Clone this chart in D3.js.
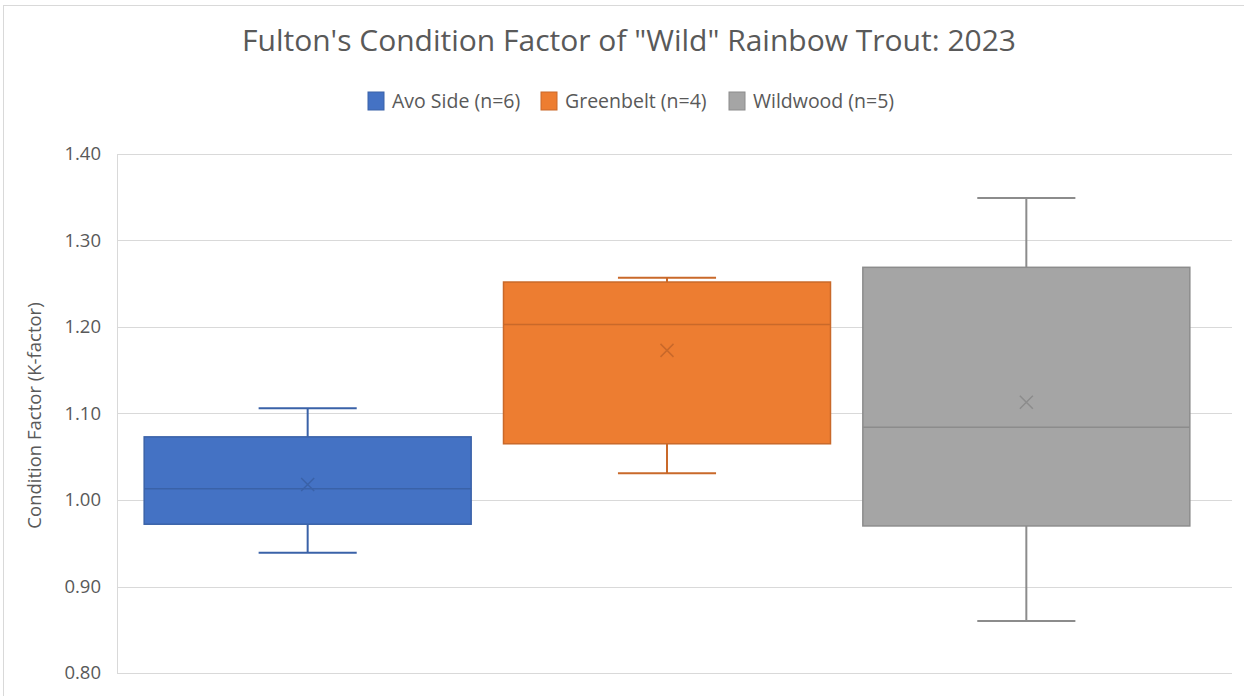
<!DOCTYPE html>
<html>
<head>
<meta charset="utf-8">
<script src="https://cdn.jsdelivr.net/npm/d3@7"></script>
<style>
  body { margin: 0; background: #fff; }
  svg { display: block; font-family: "Open Sans", "Noto Sans", sans-serif; }
</style>
</head>
<body>
<div id="chart"></div>
<script>
// data
const series = ["Avo Side (n=6)", "Greenbelt (n=4)", "Wildwood (n=5)"];
const colors = ["#4472C4", "#ED7D31", "#A5A5A5"];
const strokes = ["#3A62A8", "#C9692A", "#8C8C8C"];
const mins    = [0.939, 1.031, 0.860];
const q1s     = [0.972, 1.065, 0.970];
const medians = [1.013, 1.203, 1.084];
const q3s     = [1.073, 1.252, 1.269];
const maxs    = [1.106, 1.257, 1.349];
const means   = [1.018, 1.173, 1.113];
const yTicks  = [0.80, 0.90, 1.00, 1.10, 1.20, 1.30, 1.40];

const width = 1244, height = 696;
const plot = { left: 117, right: 1232, top: 154, bottom: 673 };

const svg = d3.select("#chart").append("svg")
  .attr("width", width)
  .attr("height", height);

// chart border
svg.append("rect")
  .attr("x", 3.5).attr("y", 5.5)
  .attr("width", width + 10).attr("height", height + 10)
  .attr("fill", "none")
  .attr("stroke", "#d9d9d9");

const y = d3.scaleLinear().domain([0.8, 1.4]).range([plot.bottom, plot.top]);

const x = d3.scaleBand()
  .domain(series)
  .range([128, 1206])
  .paddingInner(0.09)
  .paddingOuter(0.045);

// gridlines
svg.append("g")
  .selectAll("line")
  .data(yTicks)
  .join("line")
  .attr("x1", plot.left).attr("x2", plot.right)
  .attr("y1", d => Math.round(y(d)) + 0.5)
  .attr("y2", d => Math.round(y(d)) + 0.5)
  .attr("stroke", "#d9d9d9")
  .attr("stroke-width", 1);

// vertical axis line
svg.append("line")
  .attr("x1", plot.left + 0.5).attr("x2", plot.left + 0.5)
  .attr("y1", plot.top).attr("y2", plot.bottom)
  .attr("stroke", "#d9d9d9");

// y axis labels
const yAxis = svg.append("g")
  .attr("transform", `translate(${plot.left},0)`)
  .call(d3.axisLeft(y).tickValues(yTicks).tickFormat(d3.format(".2f")).tickSize(0).tickPadding(16));
yAxis.select(".domain").remove();
yAxis.selectAll(".tick text")
  .style("font-size", "18.5px")
  .style("font-family", "'Open Sans', sans-serif")
  .attr("fill", "#595959");

// y axis title
svg.append("text")
  .attr("transform", `translate(41,${(plot.top + plot.bottom) / 2 + 2}) rotate(-90)`)
  .attr("text-anchor", "middle")
  .style("font-size", "18.5px")
  .attr("fill", "#595959")
  .text("Condition Factor (K-factor)");

// title
svg.append("text")
  .attr("x", 629).attr("y", 51)
  .attr("text-anchor", "middle")
  .style("font-size", "30px")
  .attr("fill", "#595959")
  .text("Fulton's Condition Factor of \"Wild\" Rainbow Trout: 2023");

// boxes
const boxes = svg.append("g")
  .selectAll("g")
  .data(series)
  .join("g");

boxes.each(function(name, i) {
  const g = d3.select(this);
  const bx = x(name), bw = x.bandwidth(), cx = bx + bw / 2;
  const capW = bw * 0.3;
  // whiskers
  g.append("line")
    .attr("x1", cx).attr("x2", cx)
    .attr("y1", y(maxs[i])).attr("y2", y(q3s[i]))
    .attr("stroke", strokes[i]).attr("stroke-width", 2);
  g.append("line")
    .attr("x1", cx).attr("x2", cx)
    .attr("y1", y(q1s[i])).attr("y2", y(mins[i]))
    .attr("stroke", strokes[i]).attr("stroke-width", 2);
  g.append("line")
    .attr("x1", cx - capW / 2).attr("x2", cx + capW / 2)
    .attr("y1", y(maxs[i])).attr("y2", y(maxs[i]))
    .attr("stroke", strokes[i]).attr("stroke-width", 2);
  g.append("line")
    .attr("x1", cx - capW / 2).attr("x2", cx + capW / 2)
    .attr("y1", y(mins[i])).attr("y2", y(mins[i]))
    .attr("stroke", strokes[i]).attr("stroke-width", 2);
  // box
  g.append("rect")
    .attr("x", bx).attr("width", bw)
    .attr("y", y(q3s[i])).attr("height", y(q1s[i]) - y(q3s[i]))
    .attr("fill", colors[i])
    .attr("stroke", strokes[i]).attr("stroke-width", 1.5);
  // median
  g.append("line")
    .attr("x1", bx).attr("x2", bx + bw)
    .attr("y1", y(medians[i])).attr("y2", y(medians[i]))
    .attr("stroke", strokes[i]).attr("stroke-width", 1.5);
  // mean marker
  const my = y(means[i]), s = 6.5;
  g.append("path")
    .attr("d", `M${cx - s},${my - s}L${cx + s},${my + s}M${cx - s},${my + s}L${cx + s},${my - s}`)
    .attr("stroke", strokes[i]).attr("stroke-width", 1.5)
    .attr("fill", "none");
});

// legend
const legendX = [368, 541, 729];
const legend = svg.append("g")
  .selectAll("g")
  .data(series)
  .join("g")
  .attr("transform", (d, i) => `translate(${legendX[i]},92)`);
legend.append("rect")
  .attr("width", 16).attr("height", 18)
  .attr("fill", (d, i) => colors[i])
  .attr("stroke", (d, i) => strokes[i]);
legend.append("text")
  .attr("x", 24).attr("y", 16)
  .style("font-size", "19.5px")
  .attr("fill", "#595959")
  .text(d => d);
</script>
</body>
</html>
